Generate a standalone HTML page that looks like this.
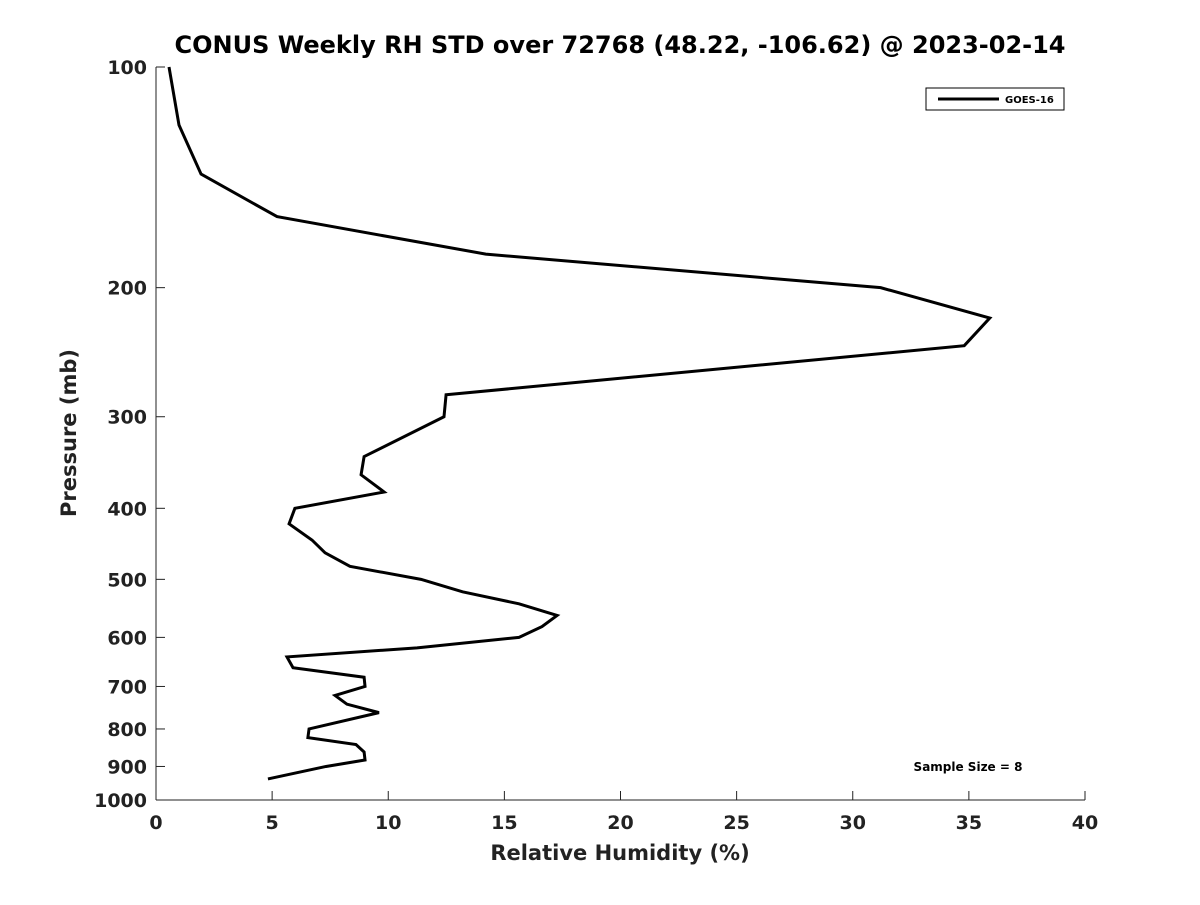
<!DOCTYPE html>
<html><head><meta charset="utf-8"><style>
body{margin:0;background:#fff;}
svg text{font-family:"DejaVu Sans","Liberation Sans",sans-serif;font-weight:bold;fill:#222;}
</style></head><body>
<svg id="chart" width="1200" height="900" xmlns="http://www.w3.org/2000/svg">
<rect width="1200" height="900" fill="#fff"/>
<text x="620" y="53" text-anchor="middle" font-size="24" style="fill:#000">CONUS Weekly RH STD over 72768 (48.22, -106.62) @ 2023-02-14</text>
<g id="axes"></g>
<polyline id="line" fill="none" stroke="#000" stroke-width="3" stroke-linejoin="miter"/>
<g>
<rect x="926" y="88" width="138" height="22" fill="#fff" stroke="#000" stroke-width="1"/>
<line x1="938" y1="99" x2="999" y2="99" stroke="#000" stroke-width="3"/>
<text x="1005" y="103" font-size="10" style="fill:#000">GOES-16</text>
</g>
<text x="968" y="771" text-anchor="middle" font-size="12" style="fill:#000">Sample Size = 8</text>
<text x="620" y="860" text-anchor="middle" font-size="21">Relative Humidity (%)</text>
<text transform="translate(76,433) rotate(-90)" text-anchor="middle" font-size="21">Pressure (mb)</text>
</svg>
<script>
const rhValues=[0.56,0.99,1.94,5.21,14.2,31.2,35.9,34.8,12.49,12.4,8.96,8.83,9.82,5.98,5.73,6.72,7.28,8.35,11.41,13.2,15.63,17.27,16.62,15.63,11.24,5.64,5.9,8.96,9.0,7.71,8.22,9.6,6.59,6.54,8.61,8.96,9.0,7.32,4.82];
const pressures=[100,120,140,160,180,200,220,240,280,300,340,360,380,400,420,442,460,480,500,520,540,560,580,600,620,638,660,680,700,720,740,760,800,822,840,860,882,900,936];
const xTicks=[0,5,10,15,20,25,30,35,40];
const yTicks=[100,200,300,400,500,600,700,800,900,1000];
const X0=156,X1=1085,Y0=67,Y1=800;
const xs=v=>X0+(v/40)*(X1-X0);
const ys=p=>Y0+(Math.log10(p)-2)*(Y1-Y0);
const NS="http://www.w3.org/2000/svg";
const g=document.getElementById('axes');
function mk(t,a){const e=document.createElementNS(NS,t);for(const k in a)e.setAttribute(k,a[k]);g.appendChild(e);return e;}
let e=mk('line',{x1:X0,y1:Y0,x2:X0,y2:Y1,stroke:'#222','stroke-width':1});


e=mk('line',{x1:X0,y1:Y1,x2:X1,y2:Y1,stroke:'#222','stroke-width':1});


xTicks.forEach(v=>{
 const x=xs(v);
 mk('line',{x1:x,y1:Y1,x2:x,y2:Y1-9,stroke:'#222'});
 const t=mk('text',{x:x,y:829,'text-anchor':'middle','font-size':19});
 t.textContent=v;
 
 
});
yTicks.forEach(p=>{
 const y=ys(p);
 mk('line',{x1:X0,y1:y,x2:X0+9,y2:y,stroke:'#222'});
 const t=mk('text',{x:147,y:y+7,'text-anchor':'end','font-size':19});
 t.textContent=p;
 
 
});
document.getElementById('line').setAttribute('points',rhValues.map((v,i)=>xs(v)+','+ys(pressures[i])).join(' '));
</script>
</body></html>
